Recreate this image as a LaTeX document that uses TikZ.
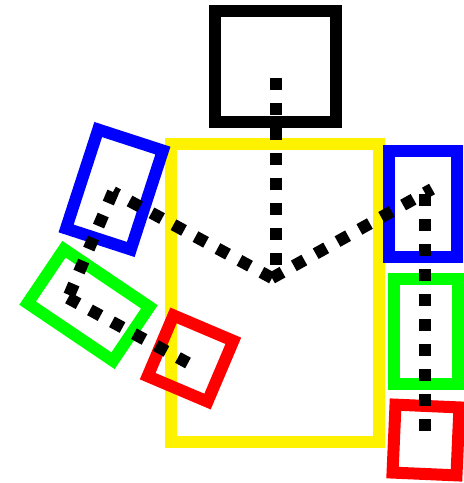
\documentclass[tikz,border=0pt]{standalone}
\usetikzlibrary{positioning}

\begin{document}
\begin{tikzpicture}[
    x=1pt, y=-1pt,
    part/.style={rectangle, draw, line width=12pt, inner sep=0pt, outer sep=0pt},
    bone/.style={draw=black, line width=12pt, dash pattern=on 12pt off 13pt}
]
\useasboundingbox (0,0) rectangle (464,483);
% body parts
\node[part, draw=black, minimum width=121pt, minimum height=111pt] (head) at (275.5,66.5) {};
\node[part, draw=yellow, minimum width=208pt, minimum height=298pt] (torso) at (275,293) {};
\node[part, draw=blue, minimum width=68pt, minimum height=104pt, rotate=-18] (lupper) at (114.5,189.5) {};
\node[part, draw=green, minimum width=103pt, minimum height=65pt, rotate=-34] (llower) at (88.5,305) {};
\node[part, draw=red, minimum width=65pt, minimum height=66pt, rotate=-23] (lhandbox) at (190.5,358.5) {};
\node[part, draw=blue, minimum width=68pt, minimum height=106pt] (rupper) at (423,204) {};
\node[part, draw=green, minimum width=64pt, minimum height=105pt] (rlower) at (426,331.5) {};
\node[part, draw=red, minimum width=64pt, minimum height=68pt, rotate=-2.5] (rhandbox) at (426,440) {};
% joints
\coordinate (neck) at (276,78);
\coordinate (waist) at (276,272);
\coordinate (pelvis) at (272,278);
\coordinate (lshoulder) at (113,192);
\coordinate (lelbow) at (68,298);
\coordinate (lhand) at (188,363);
\coordinate (rshoulder) at (432,189);
\coordinate (rtop) at (425,194);
\coordinate (rhand) at (425,443);
% skeleton
\draw[bone] (neck) -- (waist);
\draw[bone] (pelvis) -- (lshoulder);
\draw[bone] (lshoulder) -- (lelbow);
\draw[bone] (lelbow) -- (lhand);
\draw[bone] (pelvis) -- (rshoulder);
\draw[bone] (rtop) -- (rhand);
\end{tikzpicture}
\end{document}
